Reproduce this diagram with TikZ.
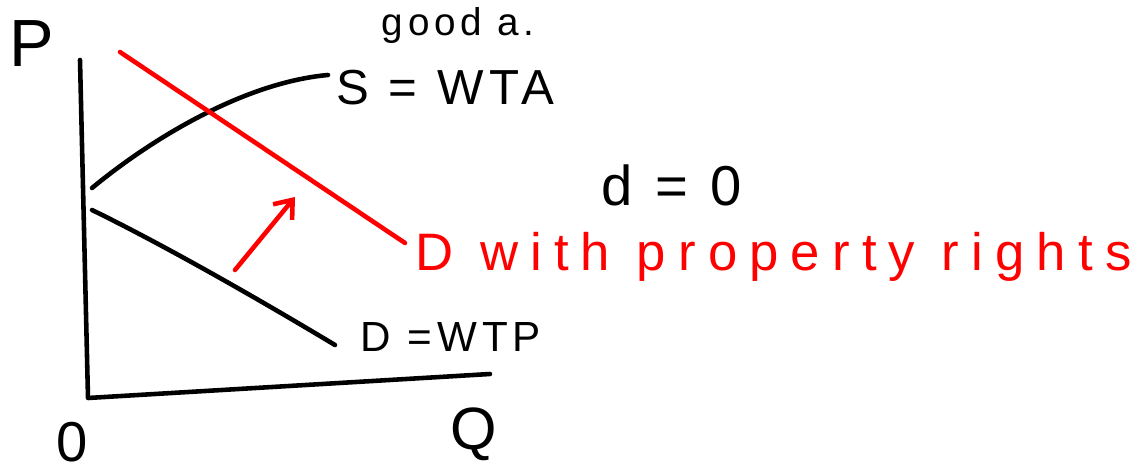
\documentclass[tikz,border=0pt]{standalone}
\usepackage{fontspec}
\setmainfont{Liberation Sans}
\newfontfamily\handfont[LetterSpace=12]{Liberation Sans}
\newfontfamily\widehand[LetterSpace=23]{Liberation Sans}
\usetikzlibrary{arrows.meta, positioning}

\begin{document}
\begin{tikzpicture}[
    x=0.02cm, y=-0.02cm,
    pen/.style={
        line width=2.6pt,
        line cap=round,
        line join=round
    },
    redpen/.style={
        pen,
        draw=red
    },
    lbl/.style={
        font=\handfont\fontsize{28}{30}\selectfont,
        inner sep=0pt
    },
    redlbl/.style={
        lbl,
        text=red
    }
]
\useasboundingbox (0,0) rectangle (1144,472);

% Axes
\coordinate (ytop) at (80,60);
\coordinate (orig) at (88,398);
\coordinate (xend) at (490,374);
\draw[pen] (ytop) -- (orig) -- (xend);

\node[lbl, font=\handfont\fontsize{38}{40}\selectfont] (plbl) at (32,44) {P};
\node[lbl, font=\handfont\fontsize{32}{34}\selectfont] (olbl) at (72,442) {0};
\node[lbl, font=\handfont\fontsize{34}{36}\selectfont] (qlbl) at (474,434) {Q};

% Supply and demand
\coordinate (s0) at (92,188);
\coordinate (s1) at (328,75);
\draw[pen] (s0) .. controls (160,132) and (250,82) .. (s1);

\coordinate (d0) at (92,210);
\coordinate (d1) at (335,345);
\draw[pen] (d0) .. controls (170,248) and (270,306) .. (d1);

\coordinate (r0) at (120,52);
\coordinate (r1) at (405,243);
\draw[redpen] (r0) -- (r1);

% Shift of demand
\coordinate (a0) at (235,270);
\coordinate (a1) at (295,197);
\draw[redpen, -{Straight Barb[length=9pt, width=14pt]}] (a0) -- (a1);

% Labels
\node[lbl, anchor=base, font=\handfont\fontsize{22}{24}\selectfont] (good) at (458,36) {good a.};
\node[lbl, anchor=west] (slbl) at (336,88) {S = WTA};
\node[lbl, anchor=west, font=\handfont\fontsize{24}{26}\selectfont] (dlbl) at (360,337) {D =WTP};
\node[lbl, font=\handfont\fontsize{32}{34}\selectfont] (alpha) at (672,185) {d = 0};
\node[redlbl, anchor=west, font=\widehand\fontsize{30}{32}\selectfont] (rlbl) at (415,257) {D with property rights};
\end{tikzpicture}
\end{document}
